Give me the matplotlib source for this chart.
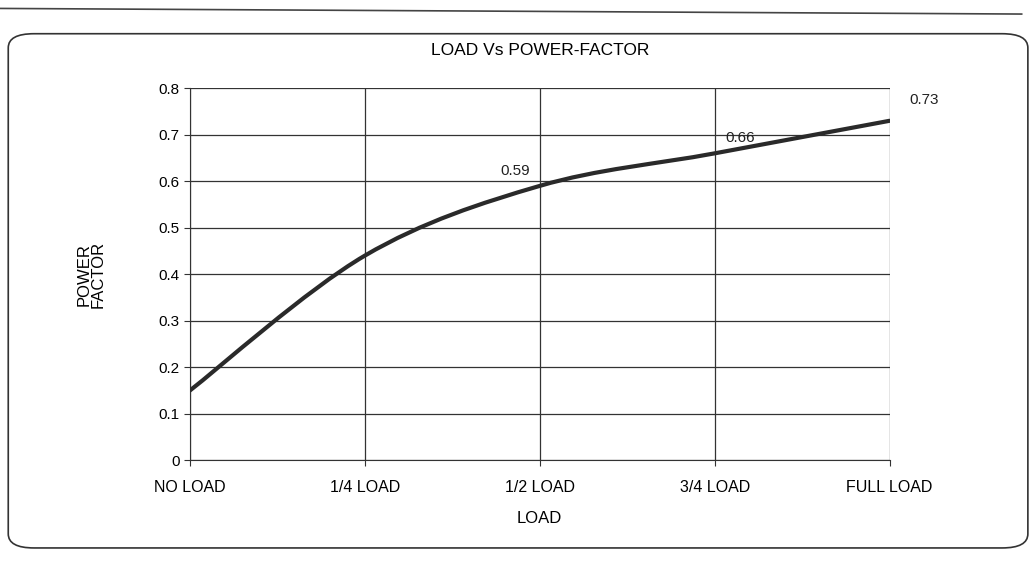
import matplotlib.pyplot as plt
from matplotlib.patches import FancyBboxPatch
from matplotlib.path import Path
from matplotlib.patches import PathPatch

plt.rcParams["font.family"] = ["Liberation Sans", "DejaVu Sans"]

# Data
loads = ["NO LOAD", "1/4 LOAD", "1/2 LOAD", "3/4 LOAD", "FULL LOAD"]
power_factor = [0.15, 0.44, 0.59, 0.66, 0.73]
shown_labels = [None, None, "0.59", "0.66", "0.73"]
y_ticks = [0, 0.1, 0.2, 0.3, 0.4, 0.5, 0.6, 0.7, 0.8]


def smooth_path(xs, ys, t=1 / 6):
    # Catmull-Rom style bezier through the data points (like a smoothed line)
    verts = [(xs[0], ys[0])]
    codes = [Path.MOVETO]
    n = len(xs)
    for i in range(n - 1):
        x0, y0 = xs[max(i - 1, 0)], ys[max(i - 1, 0)]
        x1, y1 = xs[i], ys[i]
        x2, y2 = xs[i + 1], ys[i + 1]
        x3, y3 = xs[min(i + 2, n - 1)], ys[min(i + 2, n - 1)]
        c1 = (x1 + (x2 - x0) * t, y1 + (y2 - y0) * t)
        c2 = (x2 - (x3 - x1) * t, y2 - (y3 - y1) * t)
        verts += [c1, c2, (x2, y2)]
        codes += [Path.CURVE4] * 3
    return Path(verts, codes)


fig = plt.figure(figsize=(10.32, 5.62), dpi=100)

# rounded frame around the chart
frame = FancyBboxPatch((0.008, 0.025), 0.988, 0.915,
                       boxstyle="round,pad=0,rounding_size=0.025",
                       transform=fig.transFigure, fill=False,
                       edgecolor="#333333", linewidth=1.2)
fig.patches.append(frame)
fig.add_artist(plt.Line2D([0.0, 0.99], [0.985, 0.975], transform=fig.transFigure,
                          color="#444444", lw=1.2))

ax = fig.add_axes([0.184, 0.181, 0.678, 0.662])
x = list(range(len(loads)))

path = smooth_path(x, power_factor)
ax.add_patch(PathPatch(path, fill=False, edgecolor="#2a2a2a", lw=3, zorder=3,
                       capstyle="round"))

offsets = {2: (-28, 8), 3: (8, 8), 4: (14, 12)}
for i, lab in enumerate(shown_labels):
    if lab:
        ax.annotate(lab, (x[i], power_factor[i]), xytext=offsets[i],
                    textcoords="offset points", fontsize=11, color="#222222")

ax.set_xlim(0, len(loads) - 1)
ax.set_ylim(0, 0.8)
ax.set_xticks(x)
ax.set_xticklabels(loads, fontsize=11.5)
ax.set_yticks(y_ticks)
ax.set_yticklabels(["0"] + [f"{v:.1f}" for v in y_ticks[1:]], fontsize=11)
ax.grid(True, color="#333333", lw=0.9)
ax.tick_params(direction="out", length=4, color="#333333")
ax.tick_params(axis="x", pad=10)
for side in ["top", "right"]:
    ax.spines[side].set_visible(False)
for side in ["left", "bottom"]:
    ax.spines[side].set_color("#333333")

ax.set_xlabel("LOAD", fontsize=12, labelpad=12)
ax.set_ylabel("POWER\nFACTOR", fontsize=12, labelpad=38, linespacing=0.9)
ax.set_title("LOAD Vs POWER-FACTOR", fontsize=12.5, pad=24)

fig.savefig("out.png", dpi=100)
